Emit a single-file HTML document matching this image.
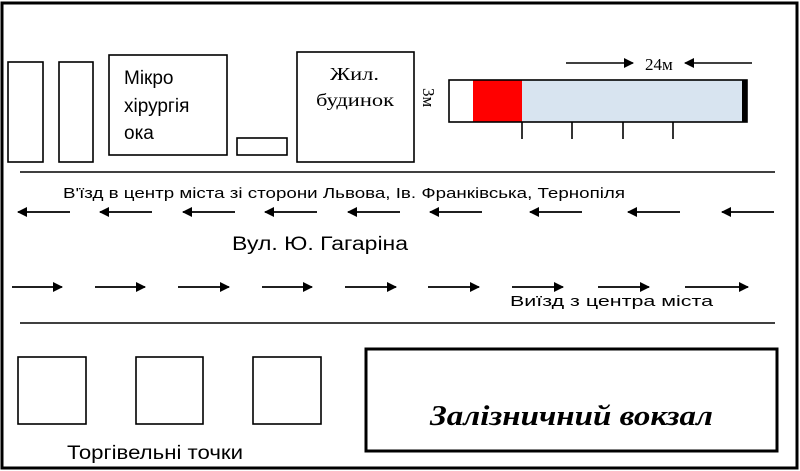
<!DOCTYPE html>
<html><head><meta charset="utf-8"><style>html,body{margin:0;padding:0;background:#fff}svg{display:block}</style></head>
<body>
<svg width="800" height="471" viewBox="0 0 800 471" xmlns="http://www.w3.org/2000/svg">
<defs>
<marker id="ah" viewBox="0 0 10 10" refX="9" refY="5" markerWidth="13" markerHeight="10" markerUnits="userSpaceOnUse" orient="auto"><path d="M0,0 L10,5 L0,10 z" fill="#000"/></marker>
<marker id="ah2" viewBox="0 0 10 10" refX="9" refY="5" markerWidth="13" markerHeight="10" markerUnits="userSpaceOnUse" orient="auto"><path d="M0,0 L10,5 L0,10 z" fill="#000"/></marker>
</defs>
<rect x="2" y="3" width="795" height="465" fill="#fff" stroke="#000" stroke-width="3"/>
<g fill="none" stroke="#000" stroke-width="1.6">
<rect x="8" y="62" width="35" height="100"/>
<rect x="59" y="62" width="34" height="100"/>
<rect x="109" y="55" width="118" height="100"/>
<rect x="237" y="138" width="50" height="17"/>
<rect x="297" y="52" width="117" height="110"/>
<rect x="18" y="357" width="68" height="67"/>
<rect x="136" y="357" width="67" height="67"/>
<rect x="253" y="357" width="68" height="67"/>
</g>
<rect x="366" y="349" width="411" height="102" fill="none" stroke="#000" stroke-width="3"/>
<line x1="20" y1="172" x2="775" y2="172" stroke="#000" stroke-width="1.6"/>
<line x1="20" y1="323" x2="775" y2="323" stroke="#000" stroke-width="1.6"/>
<rect x="449" y="80" width="24" height="42" fill="#fff"/>
<rect x="473" y="80" width="49" height="42" fill="#f00"/>
<rect x="522" y="80" width="220" height="42" fill="#d8e4f0"/>
<rect x="742" y="80" width="5" height="42" fill="#000"/>
<rect x="449" y="80" width="298" height="42" fill="none" stroke="#000" stroke-width="1.6"/>
<g stroke="#000" stroke-width="1.6">
<line x1="522" y1="122" x2="522" y2="139"/><line x1="572" y1="122" x2="572" y2="139"/>
<line x1="623" y1="122" x2="623" y2="139"/><line x1="673" y1="122" x2="673" y2="139"/>
<line x1="566" y1="63" x2="633" y2="63" marker-end="url(#ah2)"/>
<line x1="752" y1="63" x2="685" y2="63" marker-end="url(#ah2)"/>
</g>
<g stroke="#000" stroke-width="1.8">
<line x1="70" y1="212" x2="18" y2="212" marker-end="url(#ah)"/>
<line x1="152" y1="212" x2="100" y2="212" marker-end="url(#ah)"/>
<line x1="235" y1="212" x2="183" y2="212" marker-end="url(#ah)"/>
<line x1="317" y1="212" x2="265" y2="212" marker-end="url(#ah)"/>
<line x1="400" y1="212" x2="348" y2="212" marker-end="url(#ah)"/>
<line x1="482" y1="212" x2="430" y2="212" marker-end="url(#ah)"/>
<line x1="582" y1="212" x2="530" y2="212" marker-end="url(#ah)"/>
<line x1="680" y1="212" x2="628" y2="212" marker-end="url(#ah)"/>
<line x1="774" y1="212" x2="722" y2="212" marker-end="url(#ah)"/>
<line x1="12" y1="287" x2="62" y2="287" marker-end="url(#ah)"/>
<line x1="95" y1="287" x2="145" y2="287" marker-end="url(#ah)"/>
<line x1="178" y1="287" x2="229" y2="287" marker-end="url(#ah)"/>
<line x1="262" y1="287" x2="312" y2="287" marker-end="url(#ah)"/>
<line x1="345" y1="287" x2="396" y2="287" marker-end="url(#ah)"/>
<line x1="428" y1="287" x2="479" y2="287" marker-end="url(#ah)"/>
<line x1="512" y1="287" x2="563" y2="287" marker-end="url(#ah)"/>
<line x1="598" y1="287" x2="649" y2="287" marker-end="url(#ah)"/>
<line x1="685" y1="287" x2="748" y2="287" marker-end="url(#ah)"/>
</g>
<g font-family="Liberation Sans, sans-serif" fill="#000">
<text x="124" y="84" font-size="19">Мікро</text>
<text x="124" y="112" font-size="19">хірургія</text>
<text x="124" y="139" font-size="19">ока</text>
<text x="63" y="198" font-size="15" textLength="562" lengthAdjust="spacingAndGlyphs">В'їзд в центр міста зі сторони Львова, Ів. Франківська, Тернопіля</text>
<text x="232" y="250" font-size="19" textLength="176" lengthAdjust="spacingAndGlyphs">Вул. Ю. Гагаріна</text>
<text x="510" y="306" font-size="15" textLength="203" lengthAdjust="spacingAndGlyphs">Виїзд з центра міста</text>
<text x="67" y="459" font-size="19" textLength="176" lengthAdjust="spacingAndGlyphs">Торгівельні точки</text>
</g>
<g font-family="Liberation Serif, serif" fill="#000">
<text x="330" y="80" font-size="18" textLength="49" lengthAdjust="spacingAndGlyphs">Жил.</text>
<text x="316" y="106" font-size="18" textLength="78" lengthAdjust="spacingAndGlyphs">будинок</text>
<text x="645" y="70" font-size="17">24м</text>
<text transform="translate(423,88) rotate(90)" font-size="17">3м</text>
<text x="430" y="425" font-size="29" font-weight="bold" font-style="italic" textLength="283" lengthAdjust="spacingAndGlyphs">Залізничний вокзал</text>
</g>
</svg>
</body></html>
